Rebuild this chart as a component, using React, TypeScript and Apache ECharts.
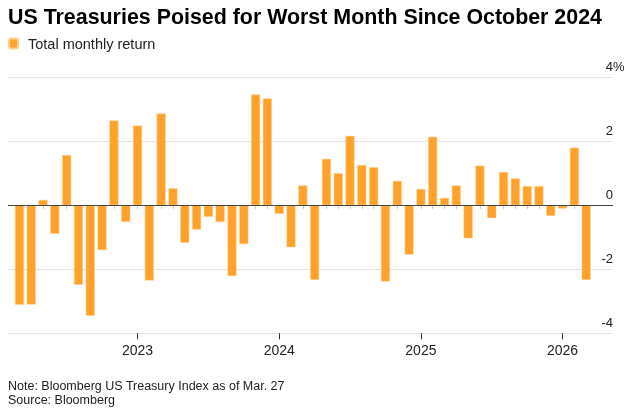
import React, { useEffect, useRef } from 'react';
import * as echarts from 'echarts';

const months = [
  '2022-03', '2022-04', '2022-05', '2022-06', '2022-07', '2022-08', '2022-09', '2022-10', '2022-11', '2022-12',
  '2023-01', '2023-02', '2023-03', '2023-04', '2023-05', '2023-06', '2023-07', '2023-08', '2023-09', '2023-10', '2023-11', '2023-12',
  '2024-01', '2024-02', '2024-03', '2024-04', '2024-05', '2024-06', '2024-07', '2024-08', '2024-09', '2024-10', '2024-11', '2024-12',
  '2025-01', '2025-02', '2025-03', '2025-04', '2025-05', '2025-06', '2025-07', '2025-08', '2025-09', '2025-10', '2025-11', '2025-12',
  '2026-01', '2026-02', '2026-03',
];

const totalMonthlyReturn = [
  -3.11, -3.10, 0.17, -0.89, 1.57, -2.48, -3.45, -1.40, 2.65, -0.52,
  2.49, -2.35, 2.87, 0.53, -1.17, -0.76, -0.36, -0.52, -2.21, -1.21, 3.46, 3.34,
  -0.27, -1.31, 0.62, -2.33, 1.45, 1.00, 2.17, 1.26, 1.19, -2.38, 0.76, -1.54,
  0.51, 2.14, 0.23, 0.62, -1.03, 1.24, -0.40, 1.04, 0.84, 0.60, 0.60, -0.33,
  -0.10, 1.80, -2.33,
];

const yearLabels = ['2023', '2024', '2025', '2026'];
const yTickValues = [-4, -2, 0, 2, 4];

const FONT = '"Liberation Sans", Arial, Helvetica, sans-serif';
const BASE_YEAR = 2022;
const monthIndex = (m: string) => {
  const [y, mo] = m.split('-').map(Number);
  return (y - BASE_YEAR) * 12 + (mo - 1);
};
const yearIndex = (y: string) => (Number(y) - BASE_YEAR) * 12;
const PCT_W = 11.6;

export default function App() {
  const ref = useRef<HTMLDivElement>(null);
  useEffect(() => {
    if (!ref.current) return;
    const chart = echarts.init(ref.current, null, { renderer: 'svg' });
    const monthTicks = months.map(monthIndex);
    const yearTicks = yearLabels.map(yearIndex);
    const xMin = 1.03;
    const xMax = 52.27;
    chart.setOption({
      animation: false,
      title: {
        text: 'US Treasuries Poised for Worst Month Since October 2024',
        left: 8,
        top: 6,
        padding: 0,
        textStyle: { fontFamily: FONT, fontSize: 21.4, fontWeight: 'bold', color: '#000' },
      },
      legend: {
        left: 8,
        top: 36,
        padding: 0,
        icon: 'roundRect',
        itemWidth: 9,
        itemHeight: 10,
        selectedMode: false,
        textStyle: { fontFamily: FONT, fontSize: 14.5, color: '#222', padding: [0, 0, 0, 5] },
        data: ['Total monthly return'],
      },
      graphic: [
        {
          type: 'text',
          left: 8,
          top: 379,
          style: { text: 'Note: Bloomberg US Treasury Index as of Mar. 27', fontFamily: FONT, fontSize: 12.5, fill: '#222' },
        },
        {
          type: 'text',
          left: 8,
          top: 393,
          style: { text: 'Source: Bloomberg', fontFamily: FONT, fontSize: 12.5, fill: '#222' },
        },
      ],
      grid: { left: 8, right: 29, top: 77.3, bottom: 78.7, containLabel: false },
      xAxis: [
        {
          type: 'value',
          min: xMin,
          max: xMax,
          position: 'bottom',
          axisLine: { show: true, lineStyle: { color: '#c8c8c8', width: 1 } },
          axisTick: { show: true, customValues: monthTicks, length: 3.5, lineStyle: { color: '#c8c8c8' } },
          axisLabel: { show: false },
          splitLine: { show: false },
        },
        {
          type: 'value',
          min: xMin,
          max: xMax,
          position: 'bottom',
          axisLine: { show: false },
          axisTick: { show: true, customValues: yearTicks, length: 6, lineStyle: { color: '#333' } },
          axisLabel: {
            show: true,
            customValues: yearTicks,
            formatter: (v: number) => String(BASE_YEAR + Math.round(v / 12)),
            fontFamily: FONT,
            fontSize: 14,
            color: '#222',
            margin: 10,
          },
          splitLine: { show: false },
        },
      ],
      yAxis: {
        type: 'value',
        min: -4,
        max: 4,
        interval: 2,
        position: 'right',
        axisLine: { show: false },
        axisTick: { show: false },
        splitLine: { show: true, lineStyle: { color: '#e2e2e2', width: 1 } },
        axisLabel: {
          inside: true,
          margin: -PCT_W,
          verticalAlign: 'bottom',
          fontFamily: FONT,
          fontSize: 13,
          color: '#222',
          customValues: yTickValues,
          formatter: (v: number) => (v === 4 ? '{a|4%}' : '{b|' + v + '}'),
          rich: {
            a: { fontFamily: FONT, fontSize: 13, color: '#222', padding: [0, 0, 4, 0] },
            b: { fontFamily: FONT, fontSize: 13, color: '#222', padding: [0, PCT_W, 4, 0] },
          },
        },
      },
      series: [
        {
          name: 'Total monthly return',
          type: 'bar',
          xAxisIndex: 0,
          barWidth: 9,
          itemStyle: { color: '#ffa22c', borderColor: '#ffcf8c', borderWidth: 0.5 },
          data: months.map((m, i) => [monthIndex(m), totalMonthlyReturn[i]]),
          markLine: {
            silent: true,
            symbol: 'none',
            label: { show: false },
            lineStyle: { color: '#444', width: 1, type: 'solid' },
            data: [{ yAxis: 0 }],
          },
        },
      ],
    });
    return () => chart.dispose();
  }, []);
  return <div ref={ref} style={{ position: 'fixed', left: 0, top: 0, width: 642, height: 412 }} />;
}
